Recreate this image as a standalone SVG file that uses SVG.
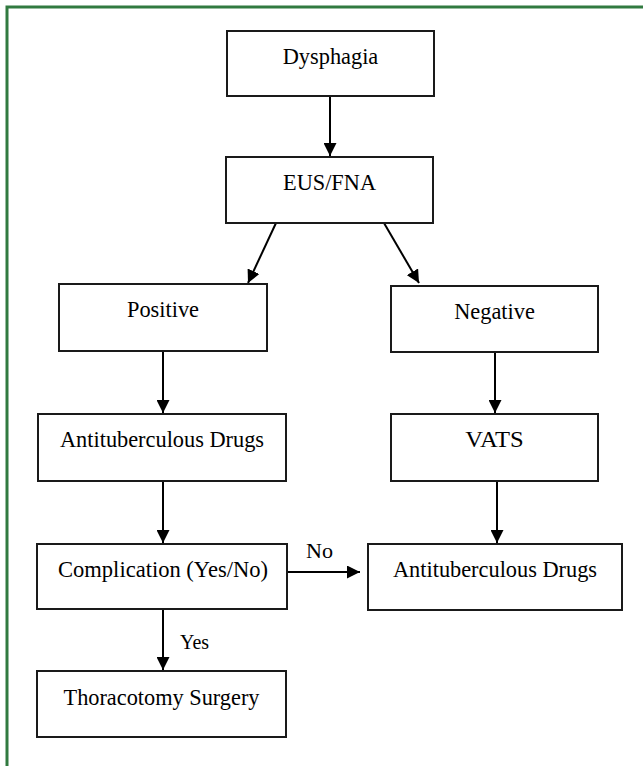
<svg xmlns="http://www.w3.org/2000/svg" width="643" height="766" viewBox="0 0 643 766">
<style>
.box{fill:#fff;stroke:#1a1a1a;stroke-width:2}
.t{font-family:'Liberation Serif','Times New Roman',serif;font-size:24px;fill:#000;text-anchor:middle}
.l{font-family:'Liberation Serif','Times New Roman',serif;font-size:22px;fill:#000}
.c{stroke:#000;stroke-width:2;fill:none}
</style>
<defs>
<marker id="ah" viewBox="0 0 13 13" refX="13" refY="6.5" markerWidth="13" markerHeight="13" markerUnits="userSpaceOnUse" orient="auto">
<path d="M0,0 L13,6.5 L0,13 Z" fill="#000"/>
</marker>
</defs>
<rect width="643" height="766" fill="#fff"/>
<rect x="7" y="7" width="700" height="820" fill="none" stroke="#317a40" stroke-width="3"/>
<g id="connectors">
<line class="c" x1="330" y1="96" x2="330" y2="156" marker-end="url(#ah)"/>
<line class="c" x1="276" y1="223" x2="248" y2="283" marker-end="url(#ah)"/>
<line class="c" x1="384" y1="223" x2="419" y2="283" marker-end="url(#ah)"/>
<line class="c" x1="163" y1="351" x2="163" y2="413" marker-end="url(#ah)"/>
<line class="c" x1="495" y1="352" x2="495" y2="413" marker-end="url(#ah)"/>
<line class="c" x1="163" y1="481" x2="163" y2="543" marker-end="url(#ah)"/>
<line class="c" x1="497" y1="481" x2="497" y2="543" marker-end="url(#ah)"/>
<line class="c" x1="287" y1="572" x2="360" y2="572" marker-end="url(#ah)"/>
<line class="c" x1="163" y1="609" x2="163" y2="670" marker-end="url(#ah)"/>
<text class="l" x="306" y="558" textLength="27" lengthAdjust="spacingAndGlyphs">No</text>
<text class="l" x="180" y="649" textLength="29" lengthAdjust="spacingAndGlyphs">Yes</text>
</g>
<g id="dysphagia"><rect class="box" x="227" y="31" width="207" height="65"/><text class="t" x="330.5" y="64" textLength="95.5" lengthAdjust="spacingAndGlyphs">Dysphagia</text></g>
<g id="eus"><rect class="box" x="226" y="157" width="207" height="66"/><text class="t" x="329.5" y="190" textLength="93" lengthAdjust="spacingAndGlyphs">EUS/FNA</text></g>
<g id="positive"><rect class="box" x="59" y="284" width="208" height="67"/><text class="t" x="163" y="317" textLength="72" lengthAdjust="spacingAndGlyphs">Positive</text></g>
<g id="negative"><rect class="box" x="391" y="286" width="207" height="66"/><text class="t" x="494.5" y="319" textLength="80.6" lengthAdjust="spacingAndGlyphs">Negative</text></g>
<g id="anti-left"><rect class="box" x="38" y="414" width="248" height="67"/><text class="t" x="162" y="447" textLength="204" lengthAdjust="spacingAndGlyphs">Antituberculous Drugs</text></g>
<g id="vats"><rect class="box" x="391" y="414" width="207" height="67"/><text class="t" x="494.5" y="447" textLength="58.3" lengthAdjust="spacingAndGlyphs">VATS</text></g>
<g id="complication"><rect class="box" x="37" y="544" width="250" height="65"/><text class="t" x="163" y="577" textLength="210" lengthAdjust="spacingAndGlyphs">Complication (Yes/No)</text></g>
<g id="anti-right"><rect class="box" x="368" y="544" width="254" height="66"/><text class="t" x="495" y="577" textLength="204" lengthAdjust="spacingAndGlyphs">Antituberculous Drugs</text></g>
<g id="thoracotomy"><rect class="box" x="37" y="671" width="249" height="66"/><text class="t" x="161.5" y="705" textLength="196" lengthAdjust="spacingAndGlyphs">Thoracotomy Surgery</text></g>
</svg>
